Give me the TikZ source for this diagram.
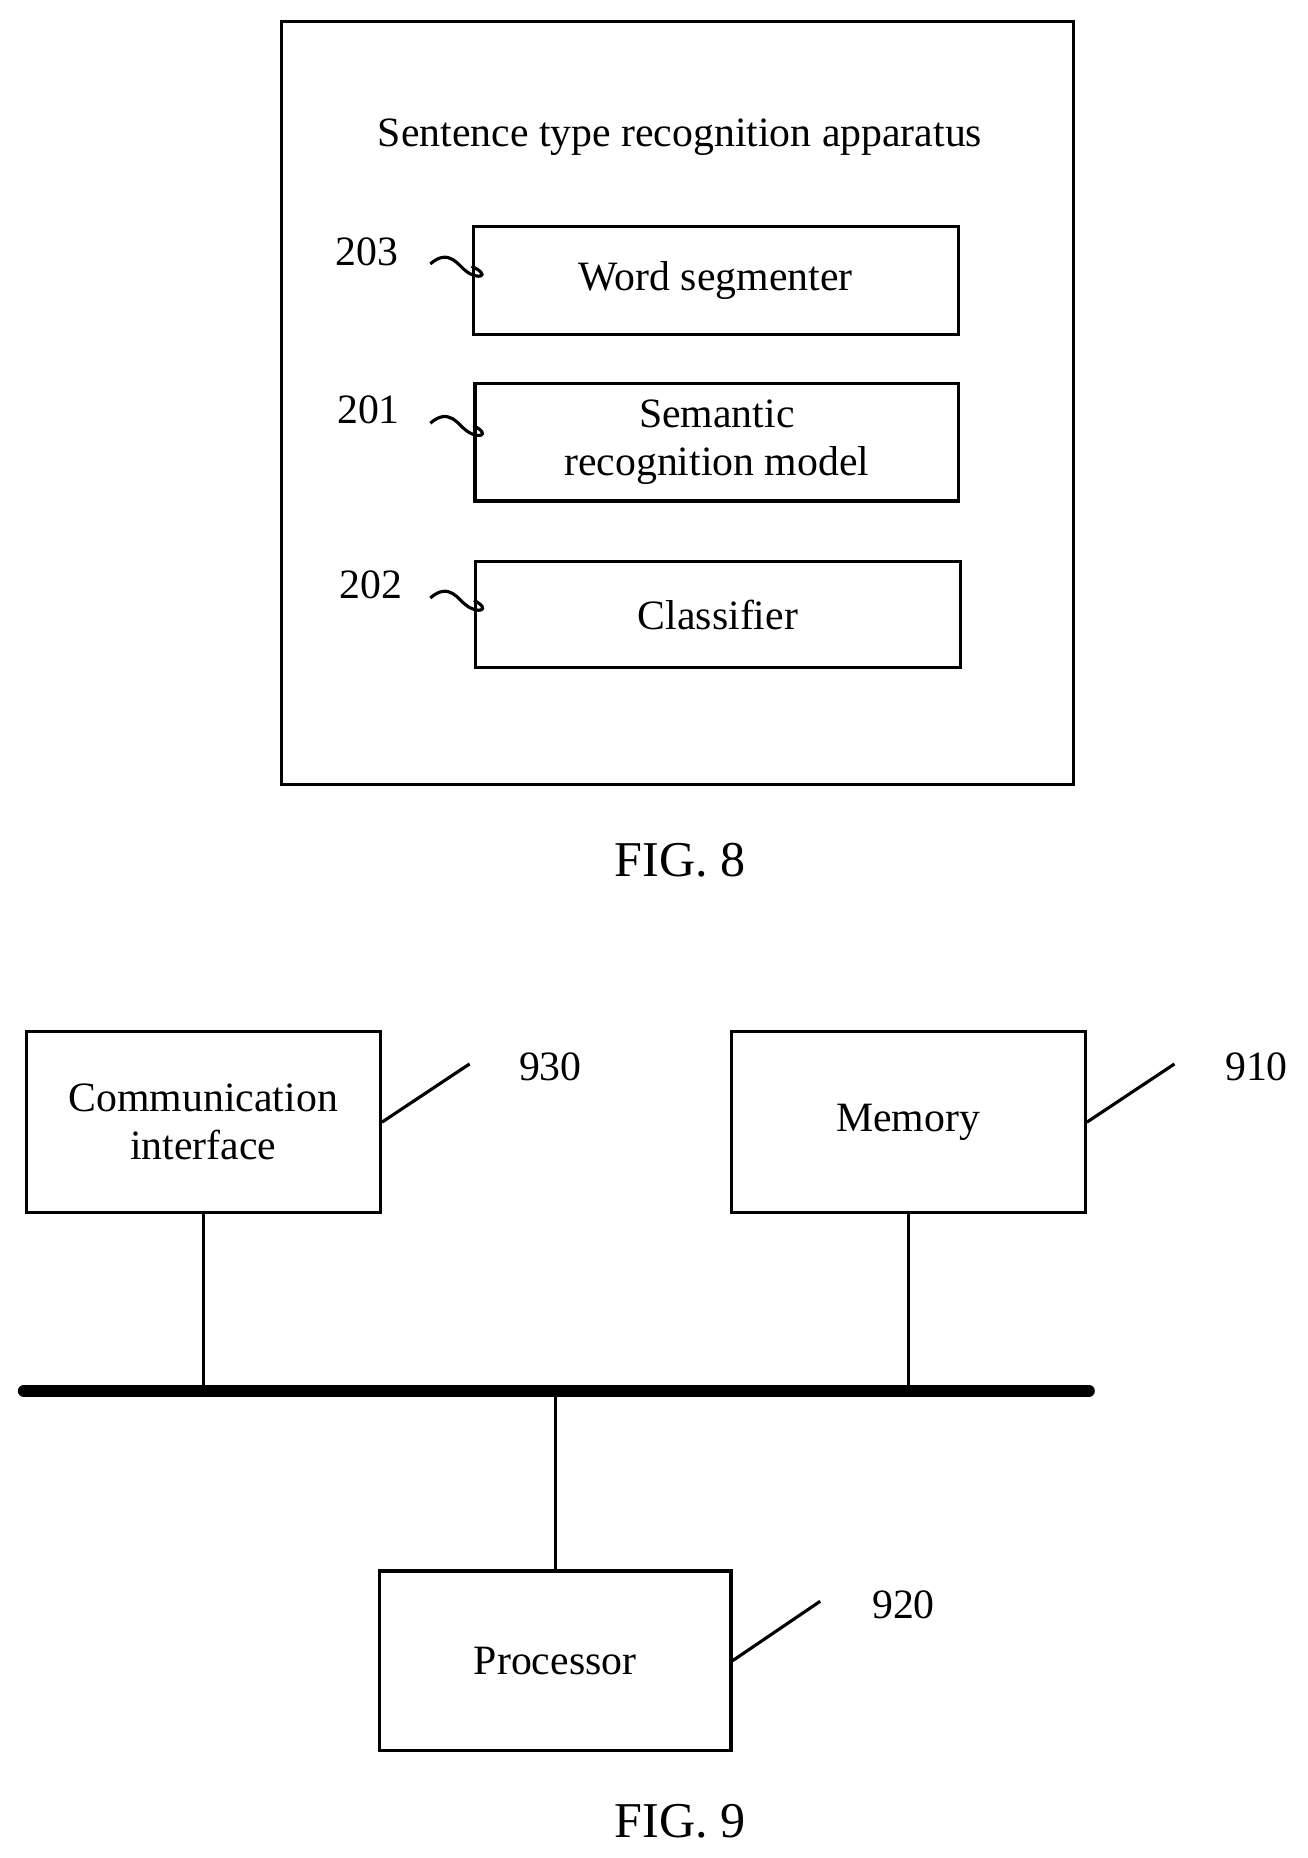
\documentclass[tikz,border=0pt]{standalone}
\usepackage{fontspec}
\setmainfont{Liberation Serif}
\usetikzlibrary{positioning}

\tikzset{
    block/.style={draw, line width=1.5pt, align=center, font=\fontsize{20}{23}\selectfont},
    refnum/.style={font=\fontsize{20}{23}\selectfont},
    lead/.style={line width=1.5pt}
}

\begin{document}
\begin{tikzpicture}[x=0.02cm, y=-0.02cm]
    \useasboundingbox (0,0) rectangle (1100,1563);

    % FIG. 8
    \node[draw, line width=1.5pt, minimum width=13.32cm, minimum height=12.84cm] (apparatus) at (570,339) {};
    \node[refnum] (title) at (572,115) {Sentence type recognition apparatus};
    \node[block, minimum width=8.16cm, minimum height=1.82cm] (segmenter) at (602,236) {Word segmenter};
    \node[block, minimum width=8.14cm, minimum height=1.98cm] (semantic) at (603,372) {Semantic\\recognition model};
    \node[block, minimum width=8.16cm, minimum height=1.78cm] (classifier) at (604,517) {Classifier};
    \node[refnum] (n203) at (309,212) {203};
    \node[refnum] (n201) at (310,345) {201};
    \node[refnum] (n202) at (312,492) {202};
    % squiggles
    \foreach \n/\y in {segmenter/222, semantic/356, classifier/503} {
        \draw[lead] (362,\y) .. controls (378,\y-14) and (386,\y+2) .. (392,\y+6)
            .. controls (402,\y+14) and (414,\y+10) .. (\n.west |- 0,\y+2);
    }
    \node[font=\fontsize{24}{28}\selectfont] (fig8) at (572,724) {FIG. 8};

    % FIG. 9
    \node[block, minimum width=5.96cm, minimum height=3.04cm] (comm) at (171,944) {Communication\\interface};
    \node[block, minimum width=5.96cm, minimum height=3.04cm] (memory) at (764,944) {Memory};
    \node[block, minimum width=5.92cm, minimum height=3.02cm] (processor) at (467,1397) {Processor};
    \coordinate (busL) at (20,1170);
    \coordinate (busR) at (916,1170);
    \draw[line width=0.2cm, line cap=round] (busL) -- (busR);
    \draw[lead] (comm.south) -- (comm.south |- busL);
    \draw[lead] (memory.south) -- (memory.south |- busL);
    \draw[lead] (processor.north) -- (processor.north |- busL);

    \node[refnum] (n930) at (463,897) {930};
    \node[refnum] (n910) at (1057,897) {910};
    \node[refnum] (n920) at (760,1350) {920};
    \coordinate (e930) at (395,895);
    \coordinate (e910) at (988,895);
    \coordinate (e920) at (690,1347);
    \draw[lead] (comm.east) -- (e930);
    \draw[lead] (memory.east) -- (e910);
    \draw[lead] (processor.east) -- (e920);
    \node[font=\fontsize{24}{28}\selectfont] (fig9) at (572,1532) {FIG. 9};
\end{tikzpicture}
\end{document}
